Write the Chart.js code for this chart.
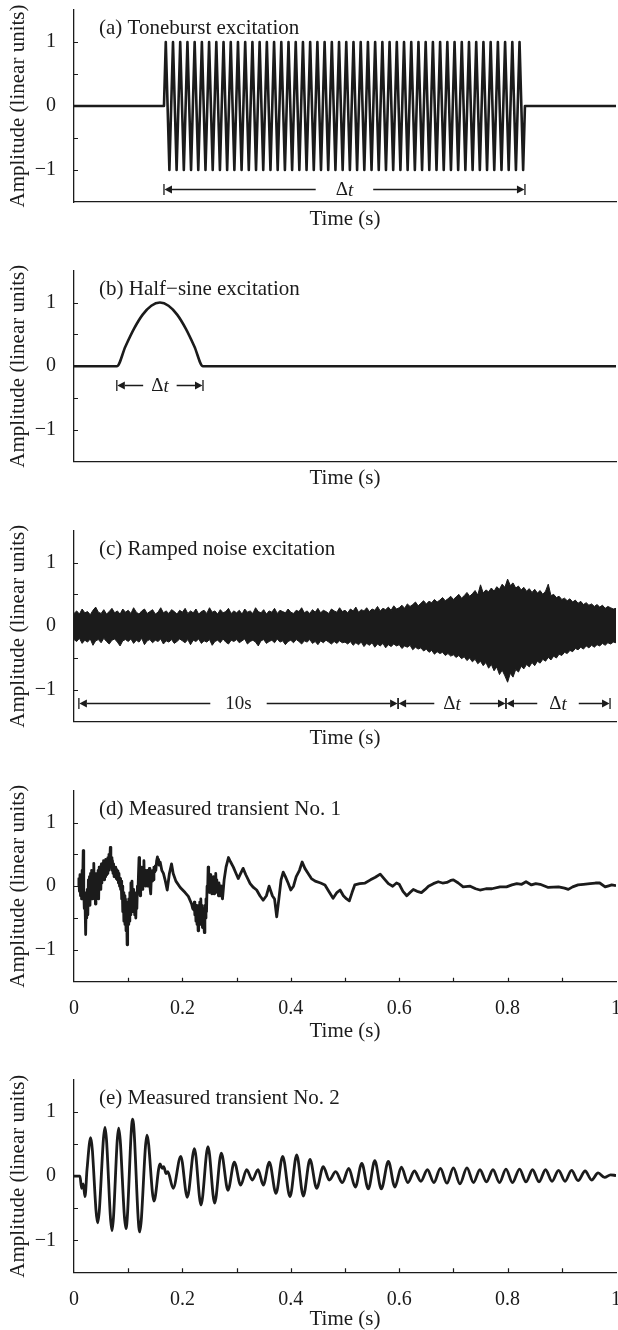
<!DOCTYPE html>
<html>
<head>
<meta charset="utf-8">
<title>Excitation signals and measured transients</title>
<script src="https://cdn.jsdelivr.net/npm/chart.js@4.4.1/dist/chart.umd.min.js"></script>
<style>
  html, body { margin: 0; padding: 0; background: #fff; overflow: hidden; }
  .panel { position: absolute; left: 0; width: 618px; }
</style>
</head>
<body>
<div class="panel" id="panelA"><canvas width="618" height="250"></canvas></div>
<div class="panel" id="panelB"><canvas width="618" height="250"></canvas></div>
<div class="panel" id="panelC"><canvas width="618" height="250"></canvas></div>
<div class="panel" id="panelD"><canvas width="618" height="280"></canvas></div>
<div class="panel" id="panelE"><canvas width="618" height="261"></canvas></div>
<script>
const INK = "#1b1b1b";
const SERIF = '"Liberation Serif", "Times New Roman", serif';

// ---------- Axis ticks ----------

const timeLabelTicks = [0, 0.2, 0.4, 0.6, 0.8, 1];
const timeTickMarks = [0.1, 0.2, 0.3, 0.4, 0.5, 0.6, 0.7, 0.8, 0.9];
const ampLabelTicks = [-1, 0, 1];
const ampTickMarks = [-1, -0.5, 0, 0.5, 1];

// ---------- (a) toneburst: one extreme per half cycle ----------

const toneburstStart = 0.166;
const toneburstEnd = 0.832;
const toneburstPeaks = [
  1, -1, 1, -1, 1, -1, 1, -1, 1, -1, 1, -1, 1, -1, 1, -1, 1, -1, 1, -1,
  1, -1, 1, -1, 1, -1, 1, -1, 1, -1, 1, -1, 1, -1, 1, -1, 1, -1, 1, -1,
  1, -1, 1, -1, 1, -1, 1, -1, 1, -1, 1, -1, 1, -1, 1, -1, 1, -1, 1, -1,
  1, -1, 1, -1, 1, -1, 1, -1, 1, -1, 1, -1, 1, -1, 1, -1, 1, -1, 1, -1,
  1, -1, 1, -1, 1, -1, 1, -1, 1, -1, 1, -1, 1, -1, 1, -1, 1, -1, 1, -1,
];

// ---------- (b) half-sine pulse ----------

const halfSineStart = 0.079;
const halfSineEnd = 0.238;
const halfSineValues = [0, 0.31, 0.59, 0.81, 0.95, 1, 0.95, 0.81, 0.59, 0.31, 0];

// ---------- (c) ramped noise: envelope every 0.005 s ----------

const noiseStep = 0.005;
const noiseUpper = [
  0.20, 0.24, 0.19, 0.27, 0.21, 0.23, 0.18, 0.25, 0.30, 0.22, 0.20, 0.26, 0.19, 0.23, 0.28, 0.21, 0.24, 0.19, 0.27, 0.22,
  0.25, 0.20, 0.29, 0.22, 0.19, 0.24, 0.27, 0.20, 0.23, 0.26, 0.19, 0.22, 0.29, 0.21, 0.24, 0.20, 0.26, 0.23, 0.19, 0.25,
  0.22, 0.28, 0.20, 0.24, 0.21, 0.27, 0.19, 0.23, 0.25, 0.20, 0.29, 0.22, 0.24, 0.19, 0.26, 0.21, 0.23, 0.28, 0.20, 0.24,
  0.21, 0.25, 0.19, 0.27, 0.22, 0.24, 0.20, 0.29, 0.23, 0.21, 0.26, 0.19, 0.24, 0.22, 0.28, 0.20, 0.25, 0.23, 0.21, 0.27,
  0.22, 0.20, 0.25, 0.23, 0.29, 0.21, 0.24, 0.20, 0.26, 0.22, 0.28, 0.21, 0.25, 0.23, 0.20, 0.27, 0.24, 0.22, 0.29, 0.23,
  0.25, 0.21, 0.27, 0.24, 0.30, 0.22, 0.26, 0.24, 0.29, 0.23, 0.27, 0.25, 0.31, 0.24, 0.28, 0.26, 0.30, 0.25, 0.32, 0.27,
  0.29, 0.33, 0.28, 0.35, 0.31, 0.34, 0.38, 0.32, 0.36, 0.40, 0.35, 0.39, 0.37, 0.42, 0.38, 0.41, 0.45, 0.40, 0.43, 0.47,
  0.42, 0.46, 0.50, 0.44, 0.48, 0.53, 0.47, 0.51, 0.56, 0.49, 0.65, 0.52, 0.57, 0.54, 0.60, 0.55, 0.62, 0.58, 0.66, 0.61,
  0.74, 0.64, 0.68, 0.60, 0.63, 0.57, 0.61, 0.55, 0.59, 0.53, 0.58, 0.52, 0.56, 0.50, 0.55, 0.66, 0.48, 0.50, 0.45, 0.47,
  0.42, 0.44, 0.40, 0.43, 0.38, 0.41, 0.36, 0.39, 0.34, 0.37, 0.33, 0.35, 0.31, 0.34, 0.30, 0.33, 0.28, 0.31, 0.29, 0.27,
  0.28,
];
const noiseLower = [
  -0.21, -0.24, -0.19, -0.27, -0.22, -0.25, -0.20, -0.30, -0.23, -0.21, -0.26, -0.19, -0.24, -0.28, -0.22, -0.20, -0.25, -0.31, -0.23, -0.21,
  -0.24, -0.20, -0.27, -0.22, -0.25, -0.19, -0.29, -0.23, -0.21, -0.26, -0.22, -0.24, -0.20, -0.28, -0.23, -0.25, -0.21, -0.27, -0.24, -0.20,
  -0.23, -0.26, -0.21, -0.29, -0.22, -0.24, -0.20, -0.27, -0.23, -0.25, -0.21, -0.30, -0.24, -0.22, -0.26, -0.20, -0.25, -0.28, -0.22, -0.24,
  -0.21, -0.26, -0.23, -0.20, -0.28, -0.24, -0.22, -0.25, -0.31, -0.23, -0.21, -0.27, -0.24, -0.22, -0.26, -0.20, -0.25, -0.23, -0.29, -0.24,
  -0.22, -0.26, -0.21, -0.24, -0.28, -0.23, -0.25, -0.21, -0.27, -0.24, -0.29, -0.23, -0.26, -0.22, -0.25, -0.28, -0.24, -0.27, -0.23, -0.26,
  -0.25, -0.28, -0.24, -0.30, -0.26, -0.29, -0.25, -0.32, -0.27, -0.30, -0.26, -0.33, -0.28, -0.31, -0.27, -0.34, -0.29, -0.32, -0.28, -0.31,
  -0.29, -0.35, -0.31, -0.33, -0.30, -0.37, -0.33, -0.36, -0.34, -0.39, -0.36, -0.41, -0.38, -0.44, -0.40, -0.43, -0.41, -0.46, -0.43, -0.47,
  -0.45, -0.49, -0.46, -0.51, -0.48, -0.54, -0.50, -0.56, -0.52, -0.59, -0.55, -0.62, -0.57, -0.66, -0.60, -0.70, -0.64, -0.76, -0.69, -0.78,
  -0.88, -0.74, -0.80, -0.68, -0.72, -0.63, -0.67, -0.60, -0.64, -0.57, -0.62, -0.55, -0.58, -0.52, -0.55, -0.49, -0.53, -0.47, -0.50, -0.44,
  -0.46, -0.41, -0.43, -0.38, -0.40, -0.35, -0.37, -0.33, -0.36, -0.31, -0.34, -0.30, -0.33, -0.29, -0.31, -0.27, -0.30, -0.26, -0.28, -0.25,
  -0.26,
];

// ---------- (d) measured transient No. 1: [time, amplitude] ----------

const transient1 = [
  [0.008, 0], [0.009, 0.12], [0.01, -0.08], [0.011, 0.18], [0.012, -0.15], [0.013, 0.05], [0.014, -0.2],
  [0.015, 0.25], [0.016, 0.05], [0.017, 0.56], [0.018, -0.1], [0.019, -0.35], [0.02, -0.1], [0.0215, -0.76],
  [0.0225, -0.2], [0.0235, -0.5], [0.0245, -0.05], [0.0255, -0.45], [0.0265, 0.1], [0.0275, -0.25], [0.0285, 0.15],
  [0.0295, -0.3], [0.0305, 0.2], [0.0315, -0.15], [0.0325, 0.25], [0.0335, -0.2], [0.0345, 0.1], [0.0355, -0.1],
  [0.0365, 0.36], [0.0375, -0.05], [0.0385, 0.2], [0.0395, -0.28], [0.0405, 0.15], [0.0415, -0.2], [0.0425, 0.2],
  [0.0435, -0.15], [0.0445, 0.25], [0.0455, -0.2], [0.0465, 0.3], [0.0475, 0], [0.0485, 0.25], [0.0495, -0.05],
  [0.0505, 0.35], [0.0515, 0.05], [0.0525, 0.3], [0.0535, 0.1], [0.0545, 0.4], [0.0555, 0.1], [0.0565, 0.35],
  [0.0575, 0.15], [0.0585, 0.42], [0.0595, 0.18], [0.0605, 0.38], [0.0615, 0.2], [0.0625, 0.45], [0.0635, 0.25],
  [0.0645, 0.5], [0.0655, 0.3], [0.067, 0.61], [0.068, 0.3], [0.069, 0.45], [0.07, 0.25], [0.071, 0.4],
  [0.072, 0.2], [0.073, 0.35], [0.074, 0.15], [0.075, 0.3], [0.076, 0.18], [0.077, 0.3], [0.078, 0.12],
  [0.079, 0.26], [0.08, 0.1], [0.081, 0.24], [0.082, 0.05], [0.083, 0.2], [0.084, 0], [0.085, 0.12],
  [0.086, -0.05], [0.087, 0.08], [0.088, -0.2], [0.089, 0], [0.09, -0.4], [0.091, -0.1], [0.092, -0.55],
  [0.093, -0.15], [0.094, -0.6], [0.095, -0.2], [0.096, -0.7], [0.097, -0.3], [0.098, -0.92], [0.099, -0.25],
  [0.1, -0.6], [0.101, -0.2], [0.102, -0.55], [0.103, -0.1], [0.104, -0.45], [0.105, 0.05], [0.106, -0.4],
  [0.107, 0.08], [0.108, -0.3], [0.109, -0.05], [0.11, -0.4], [0.111, -0.1], [0.112, -0.45], [0.113, -0.15],
  [0.114, -0.5], [0.115, -0.2], [0.116, -0.35], [0.117, 0], [0.118, -0.1], [0.119, 0.2], [0.12, 0.45],
  [0.121, 0], [0.122, -0.15], [0.123, 0.2], [0.124, 0], [0.125, 0.3], [0.126, -0.05], [0.127, 0.2],
  [0.128, 0.05], [0.129, 0.4], [0.13, 0.05], [0.131, 0.25], [0.132, 0], [0.133, 0.2], [0.134, 0.05],
  [0.135, 0.25], [0.136, 0], [0.137, 0.2], [0.138, 0.05], [0.139, 0.28], [0.14, 0], [0.1415, -0.12],
  [0.143, 0.22], [0.144, 0.08], [0.145, 0.25], [0.146, 0.1], [0.1475, 0.3], [0.149, 0.22], [0.15, 0.32],
  [0.151, 0.25], [0.1525, 0.4], [0.154, 0.46], [0.155, 0.36], [0.156, 0.42], [0.157, 0.33], [0.159, 0.38],
  [0.162, 0.25], [0.165, 0.2], [0.168, 0.1], [0.172, -0.06], [0.176, 0.2], [0.18, 0.35], [0.183, 0.2],
  [0.188, 0.08], [0.196, -0.02], [0.205, -0.1], [0.211, -0.16], [0.217, -0.28], [0.219, -0.35], [0.221, -0.37],
  [0.222, -0.25], [0.223, -0.45], [0.224, -0.3], [0.225, -0.55], [0.226, -0.3], [0.227, -0.6], [0.228, -0.35],
  [0.229, -0.7], [0.23, -0.3], [0.231, -0.55], [0.232, -0.25], [0.233, -0.6], [0.234, -0.2], [0.235, -0.55],
  [0.236, -0.3], [0.237, -0.65], [0.238, -0.35], [0.2395, -0.6], [0.2405, -0.73], [0.2415, -0.3], [0.2425, -0.5],
  [0.2435, -0.2], [0.2445, -0.4], [0.2455, 0], [0.2465, -0.1], [0.2475, 0.3], [0.2485, -0.05], [0.2495, 0.15],
  [0.2505, -0.1], [0.2515, 0.18], [0.2525, -0.05], [0.2535, 0.1], [0.2545, -0.12], [0.2555, 0.12], [0.2565, -0.08],
  [0.2575, 0.15], [0.2585, -0.12], [0.2595, 0.1], [0.2605, -0.05], [0.2615, 0.2], [0.2625, -0.05], [0.2635, 0.1],
  [0.2645, -0.1], [0.2655, 0.05], [0.2665, -0.15], [0.2675, 0.05], [0.2685, -0.15], [0.2695, 0], [0.2705, -0.1],
  [0.2715, 0], [0.2725, -0.15], [0.274, -0.2], [0.277, 0.1], [0.2805, 0.3], [0.285, 0.45], [0.289, 0.38],
  [0.294, 0.3], [0.299, 0.2], [0.303, 0.12], [0.3075, 0.2], [0.312, 0.28], [0.317, 0.18], [0.325, 0.04],
  [0.331, -0.02], [0.337, -0.06], [0.343, -0.15], [0.349, -0.22], [0.355, -0.15], [0.36, 0], [0.366, -0.15],
  [0.37, -0.2], [0.374, -0.48], [0.378, -0.2], [0.382, 0.1], [0.386, 0.22], [0.39, 0.15], [0.395, 0.05],
  [0.4, -0.06], [0.405, 0], [0.41, 0.15], [0.416, 0.25], [0.421, 0.38], [0.426, 0.28], [0.432, 0.2],
  [0.438, 0.12], [0.445, 0.08], [0.455, 0.05], [0.463, 0.02], [0.47, -0.08], [0.478, -0.19], [0.485, -0.1],
  [0.491, -0.06], [0.497, -0.15], [0.503, -0.2], [0.508, -0.23], [0.513, -0.1], [0.518, 0.02], [0.527, 0.04],
  [0.537, 0.05], [0.547, 0.1], [0.556, 0.14], [0.565, 0.19], [0.572, 0.12], [0.58, 0.04], [0.588, 0],
  [0.595, 0.05], [0.6, 0.03], [0.607, -0.08], [0.614, -0.15], [0.62, -0.1], [0.626, -0.05], [0.633, -0.08],
  [0.641, -0.1], [0.648, -0.05], [0.654, 0], [0.663, 0.04], [0.672, 0.07], [0.68, 0.05], [0.688, 0.06],
  [0.695, 0.09], [0.7, 0.1], [0.709, 0.05], [0.718, -0.01], [0.731, 0], [0.741, -0.04], [0.749, -0.06],
  [0.76, -0.04], [0.771, -0.04], [0.786, -0.01], [0.798, -0.01], [0.808, 0.02], [0.817, 0.04], [0.826, 0.03],
  [0.834, 0.07], [0.844, 0.02], [0.852, 0.04], [0.86, 0.03], [0.875, -0.02], [0.894, -0.01], [0.905, -0.03],
  [0.912, -0.05], [0.92, -0.01], [0.93, 0.02], [0.94, 0.03], [0.952, 0.04], [0.962, 0.05], [0.97, 0.05],
  [0.98, -0.01], [0.988, 0.01], [0.992, 0.02], [1, 0.01],
];

// ---------- (e) measured transient No. 2: extremes [time, amplitude] ----------

const transient2 = [
  [0, 0], [0.011, 0], [0.014, -0.19], [0.017, -0.12], [0.0203, -0.32], [0.024, 0.1], [0.0308, 0.6],
  [0.0437, -0.73], [0.0572, 0.76], [0.0701, -0.85], [0.0824, 0.75], [0.0959, -0.82], [0.1082, 0.89],
  [0.1212, -0.87], [0.1347, 0.64], [0.1476, -0.39], [0.1587, 0.19], [0.163, 0.12], [0.1655, 0.15],
  [0.17, 0.04], [0.173, 0.07], [0.183, -0.19], [0.197, 0.31], [0.209, -0.33], [0.2222, 0.43],
  [0.2343, -0.45], [0.2472, 0.46], [0.2595, -0.42], [0.2718, 0.36], [0.2841, -0.22], [0.2958, 0.22],
  [0.3075, -0.14], [0.3186, 0.1], [0.329, -0.06], [0.3395, 0.1], [0.3493, -0.14], [0.3604, 0.22],
  [0.3727, -0.27], [0.385, 0.31], [0.3985, -0.32], [0.4109, 0.33], [0.4231, -0.31], [0.4354, 0.26],
  [0.4477, -0.19], [0.46, 0.15], [0.471, -0.06], [0.4828, 0.07], [0.495, -0.1], [0.507, 0.12],
  [0.519, -0.17], [0.531, 0.2], [0.543, -0.2], [0.555, 0.24], [0.567, -0.2], [0.58, 0.23], [0.592, -0.17],
  [0.604, 0.14], [0.616, -0.1], [0.628, 0.08], [0.64, -0.08], [0.652, 0.1], [0.664, -0.1], [0.676, 0.12],
  [0.688, -0.11], [0.7, 0.13], [0.712, -0.12], [0.725, 0.13], [0.737, -0.1], [0.749, 0.1], [0.761, -0.09],
  [0.773, 0.1], [0.785, -0.1], [0.797, 0.11], [0.809, -0.1], [0.822, 0.11], [0.834, -0.09], [0.846, 0.1],
  [0.858, -0.09], [0.87, 0.1], [0.882, -0.08], [0.894, 0.09], [0.906, -0.08], [0.918, 0.09], [0.93, -0.07],
  [0.943, 0.08], [0.955, -0.06], [0.967, 0.05], [0.979, -0.02], [0.99, 0.02], [1, 0.01],
];

// ---------- Duration markers (time span, amplitude level, text) ----------

const spansA = [{ from: 0.166, to: 0.832, at: -1.3, label: "Δt" }];
const spansB = [{ from: 0.079, to: 0.238, at: -0.3, label: "Δt" }];
const spansC = [
  { from: 0.009, to: 0.598, at: -1.2, label: "10s" },
  { from: 0.598, to: 0.797, at: -1.2, label: "Δt" },
  { from: 0.797, to: 0.989, at: -1.2, label: "Δt" },
];

// ---------- Point builders ----------

function toneburstPoints() {
  const step = (toneburstEnd - toneburstStart) / toneburstPeaks.length;
  const pts = [{ x: 0, y: 0 }, { x: toneburstStart, y: 0 }];
  toneburstPeaks.forEach((v, i) => pts.push({ x: toneburstStart + (i + 0.5) * step, y: v }));
  pts.push({ x: toneburstEnd, y: 0 }, { x: 1, y: 0 });
  return pts;
}

function halfSinePoints() {
  const step = (halfSineEnd - halfSineStart) / (halfSineValues.length - 1);
  const pts = [{ x: 0, y: 0 }];
  halfSineValues.forEach((v, i) => pts.push({ x: halfSineStart + i * step, y: v }));
  pts.push({ x: 1, y: 0 });
  return pts;
}

const envelopePoints = (vals) => vals.map((v, i) => ({ x: i * noiseStep, y: v }));
const pairPoints = (pairs) => pairs.map(([x, y]) => ({ x, y }));

function trace(points, width, smooth) {
  return {
    data: points,
    borderColor: INK,
    borderWidth: width,
    borderJoinStyle: "round",
    pointRadius: 0,
    fill: false,
    cubicInterpolationMode: smooth ? "monotone" : "default",
    tension: 0,
  };
}

// ---------- Plugins ----------

// tick marks pointing into the plot
const inwardTicks = {
  id: "inwardTicks",
  afterDraw(chart, args, opts) {
    const { ctx, chartArea: a, scales } = chart;
    ctx.save();
    ctx.strokeStyle = INK;
    ctx.lineWidth = 1.2;
    ctx.beginPath();
    ampTickMarks.forEach((v) => {
      const py = Math.round(scales.y.getPixelForValue(v)) + 0.5;
      ctx.moveTo(a.left, py);
      ctx.lineTo(a.left + 4, py);
    });
    if (opts.timeTicks) {
      timeTickMarks.forEach((v) => {
        const px = Math.round(scales.x.getPixelForValue(v)) + 0.5;
        ctx.moveTo(px, a.bottom);
        ctx.lineTo(px, a.bottom - 4);
      });
    }
    ctx.stroke();
    ctx.restore();
  },
};

function drawSpanLabel(ctx, text, cx, y) {
  const roman = "19px " + SERIF;
  const italic = "italic 19px " + SERIF;
  const head = text.startsWith("Δ") ? "Δ" : text;
  const tail = text.startsWith("Δ") ? text.slice(1) : "";
  ctx.font = roman;
  const w1 = ctx.measureText(head).width;
  ctx.font = italic;
  const w2 = tail ? ctx.measureText(tail).width : 0;
  const left = cx - (w1 + w2) / 2;
  ctx.font = roman;
  ctx.fillText(head, left, y);
  if (tail) {
    ctx.font = italic;
    ctx.fillText(tail, left + w1, y);
  }
  return w1 + w2;
}

function drawSpan(ctx, scales, span, gap) {
  const x0 = scales.x.getPixelForValue(span.from);
  const x1 = scales.x.getPixelForValue(span.to);
  const y = Math.round(scales.y.getPixelForValue(span.at)) + 0.5;
  const mid = (x0 + x1) / 2;
  const w = drawSpanLabel(ctx, span.label, mid, y + 1);
  const head = 8;
  const half = 4;
  const bar = 5.5;

  ctx.beginPath();
  ctx.moveTo(x0, y - bar);
  ctx.lineTo(x0, y + bar);
  ctx.moveTo(x1, y - bar);
  ctx.lineTo(x1, y + bar);
  ctx.moveTo(x0 + head, y);
  ctx.lineTo(mid - w / 2 - gap, y);
  ctx.moveTo(mid + w / 2 + gap, y);
  ctx.lineTo(x1 - head, y);
  ctx.stroke();

  ctx.beginPath();
  ctx.moveTo(x0 + 0.5, y);
  ctx.lineTo(x0 + head, y - half);
  ctx.lineTo(x0 + head, y + half);
  ctx.closePath();
  ctx.moveTo(x1 - 0.5, y);
  ctx.lineTo(x1 - head, y - half);
  ctx.lineTo(x1 - head, y + half);
  ctx.closePath();
  ctx.fill();
}

// panel caption plus duration markers
const panelDecor = {
  id: "panelDecor",
  afterDatasetsDraw(chart, args, opts) {
    const { ctx, chartArea, scales } = chart;
    ctx.save();
    ctx.fillStyle = INK;
    ctx.strokeStyle = INK;
    ctx.lineWidth = 1.3;
    ctx.textBaseline = "middle";
    ctx.textAlign = "left";
    ctx.font = "21px " + SERIF;
    ctx.fillText(opts.caption, chartArea.left + 25, chartArea.top + 18.5);
    (opts.spans || []).forEach((s, i) => drawSpan(ctx, scales, s, opts.gaps[i]));
    ctx.restore();
  },
};

// ---------- Charts ----------

Chart.defaults.color = INK;
Chart.defaults.font.family = SERIF;
Chart.defaults.animation = false;

const panels = [
  {
    id: "panelA", top: 0, height: 250, chartTop: 10, chartBottom: 202, timeTitleY: 219,
    caption: "(a) Toneburst excitation", timeTicks: false,
    datasets: [trace(toneburstPoints(), 2.6, false)],
    spans: spansA, gaps: [20],
  },
  {
    id: "panelB", top: 260, height: 250, chartTop: 270.7, chartBottom: 461.7, timeTitleY: 478.5,
    caption: "(b) Half\u2212sine excitation", timeTicks: false,
    datasets: [trace(halfSinePoints(), 2.6, true)],
    spans: spansB, gaps: [8],
  },
  {
    id: "panelC", top: 520, height: 250, chartTop: 530.7, chartBottom: 721.7, timeTitleY: 738.5,
    caption: "(c) Ramped noise excitation", timeTicks: false,
    datasets: [
      { ...trace(envelopePoints(noiseUpper), 1, false), fill: "+1", backgroundColor: INK },
      trace(envelopePoints(noiseLower), 1, false),
    ],
    spans: spansC, gaps: [15, 9, 12],
  },
  {
    id: "panelD", top: 780, height: 280, chartTop: 790.7, chartBottom: 981.7, timeTitleY: 1031,
    caption: "(d) Measured transient No. 1", timeTicks: true,
    datasets: [trace(pairPoints(transient1), 2.8, false)],
    spans: [], gaps: [],
  },
  {
    id: "panelE", top: 1069, height: 261, chartTop: 1080, chartBottom: 1272.3, timeTitleY: 1319,
    caption: "(e) Measured transient No. 2", timeTicks: true,
    datasets: [trace(pairPoints(transient2), 2.8, true)],
    spans: [], gaps: [],
  },
];

function zeroPadding(s) {
  s.paddingTop = 0;
  s.paddingBottom = 0;
  s.paddingLeft = 0;
  s.paddingRight = 0;
}

panels.forEach((p) => {
  const wrap = document.getElementById(p.id);
  wrap.style.top = p.top + "px";
  wrap.style.height = p.height + "px";
  const canvas = wrap.querySelector("canvas");
  const xAxisHeight = p.top + p.height - p.chartBottom;
  const titleFont = { size: 21, family: SERIF, lineHeight: 1 };

  new Chart(canvas.getContext("2d"), {
    type: "line",
    data: { datasets: p.datasets },
    plugins: [inwardTicks, panelDecor],
    options: {
      responsive: false,
      events: [],
      layout: { padding: { top: p.chartTop - p.top, right: 2, bottom: 0, left: 0 } },
      plugins: {
        legend: { display: false },
        tooltip: { enabled: false },
        inwardTicks: { timeTicks: p.timeTicks },
        panelDecor: { caption: p.caption, spans: p.spans, gaps: p.gaps },
      },
      scales: {
        x: {
          type: "linear",
          min: 0,
          max: 1,
          grid: { display: false },
          border: { display: true, color: INK, width: 1.3 },
          afterBuildTicks: (s) => { s.ticks = timeLabelTicks.map((v) => ({ value: v })); },
          ticks: {
            display: p.timeTicks,
            autoSkip: false,
            padding: 7,
            color: INK,
            font: { size: 20, family: SERIF },
            callback: (v) => String(v),
          },
          title: {
            display: true,
            text: "Time (s)",
            color: INK,
            font: titleFont,
            padding: { top: 0, bottom: p.top + p.height - p.timeTitleY - 10.5 },
          },
          afterFit: (s) => { s.height = xAxisHeight; zeroPadding(s); },
        },
        y: {
          type: "linear",
          min: -1.5,
          max: 1.5,
          grid: { display: false },
          border: { display: true, color: INK, width: 1.3 },
          afterBuildTicks: (s) => { s.ticks = ampLabelTicks.map((v) => ({ value: v })); },
          ticks: {
            autoSkip: false,
            padding: 10,
            color: INK,
            font: { size: 20, family: SERIF },
            callback: (v) => (v < 0 ? "\u2212" + Math.abs(v) : String(v)),
          },
          title: {
            display: true,
            text: "Amplitude (linear units)",
            color: INK,
            font: titleFont,
            padding: { top: 8, bottom: 0 },
          },
          afterFit: (s) => { s.width = 74; zeroPadding(s); },
        },
      },
    },
  });
});
</script>
</body>
</html>
